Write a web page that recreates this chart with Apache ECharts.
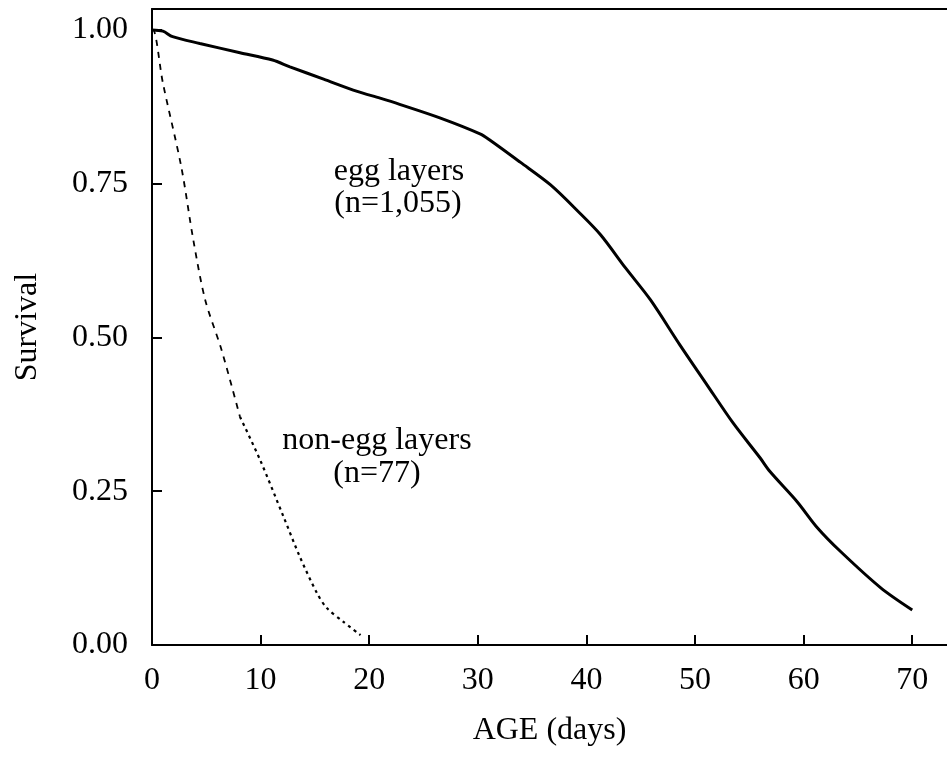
<!DOCTYPE html>
<html>
<head>
<meta charset="utf-8">
<script src="https://cdn.jsdelivr.net/npm/echarts@6/dist/echarts.min.js"></script>
<style>html,body{margin:0;padding:0;background:#fff;}#c{width:947px;height:759px;}</style>
</head>
<body>
<div id="c"></div>
<script>
const eggDays = [0, 1, 1.9, 4.4, 8.1, 11.1, 12.7, 15.8, 18.9, 21, 22.8, 26.5, 30.2, 31.1, 33.9, 36.7, 39.4, 41.3, 43.6, 45.9, 48.6, 51.1, 53.5, 56, 56.9, 59.4, 61.2, 63.4, 67.1, 70];
const eggSurv = [1.0, 0.998, 0.989, 0.978, 0.963, 0.951, 0.940, 0.920, 0.900, 0.889, 0.879, 0.857, 0.831, 0.821, 0.785, 0.748, 0.702, 0.667, 0.613, 0.561, 0.488, 0.423, 0.361, 0.304, 0.282, 0.233, 0.192, 0.152, 0.093, 0.057];
const nonEggDashDays = [0, 0.1, 1.0, 2.7, 3.8, 4.9, 6.4, 8.1];
const nonEggDashSurv = [1.0, 1.0, 0.914, 0.777, 0.659, 0.561, 0.480, 0.371];
const nonEggDotDays = [8.1, 9.95, 12.1, 13.6, 15.2, 16.1, 17.6, 19.2];
const nonEggDotSurv = [0.371, 0.301, 0.209, 0.144, 0.084, 0.060, 0.038, 0.016];
const xTicks = [0, 10, 20, 30, 40, 50, 60, 70];
const yTicks = ['0.00', '0.25', '0.50', '0.75', '1.00'];

const FONT = '"Liberation Serif", "Times New Roman", serif';
const pairs = (a, b) => a.map((v, i) => [v, b[i]]);

const chart = echarts.init(document.getElementById('c'), null, {renderer: 'canvas'});
chart.setOption({
  backgroundColor: '#fff',
  animation: false,
  grid: {left: 152, right: 0, top: 9, bottom: 114},
  xAxis: [{
    type: 'value', min: 0, max: 73.2, interval: 10,
    axisLine: {lineStyle: {color: '#000', width: 2}},
    axisTick: {inside: true, length: 10, lineStyle: {color: '#000', width: 2}},
    axisLabel: {color: '#000', fontFamily: FONT, fontSize: 32, margin: 20, showMaxLabel: false,
      formatter: v => xTicks.indexOf(v) >= 0 ? String(v) : ''},
    splitLine: {show: false},
    name: 'AGE (days)', nameLocation: 'middle', nameGap: 70,
    nameTextStyle: {color: '#000', fontFamily: FONT, fontSize: 32}
  }, {
    type: 'value', position: 'top', min: 0, max: 73.2,
    axisLine: {show: true, lineStyle: {color: '#000', width: 2}},
    axisTick: {show: false}, axisLabel: {show: false}, splitLine: {show: false}
  }],
  yAxis: {
    type: 'value', min: 0, max: 1.034, interval: 0.25,
    axisLine: {show: true, lineStyle: {color: '#000', width: 2}},
    axisTick: {show: true, inside: true, length: 10, lineStyle: {color: '#000', width: 2}},
    axisLabel: {color: '#000', fontFamily: FONT, fontSize: 32, margin: 24, showMaxLabel: false,
      formatter: v => { const s = v.toFixed(2); return yTicks.indexOf(s) >= 0 ? s : ''; }},
    splitLine: {show: false},
    name: 'Survival', nameLocation: 'middle', nameGap: 108, nameRotate: 90,
    nameTextStyle: {color: '#000', fontFamily: FONT, fontSize: 32}
  },
  series: [
    {type: 'line', data: pairs(eggDays, eggSurv), showSymbol: false, smooth: 0.3,
      lineStyle: {color: '#000', width: 3}},
    {type: 'line', data: pairs(nonEggDashDays, nonEggDashSurv), showSymbol: false, smooth: 0.3,
      lineStyle: {color: '#000', width: 1.8, type: [6, 6]}},
    {type: 'line', data: pairs(nonEggDotDays, nonEggDotSurv), showSymbol: false, smooth: 0.3,
      lineStyle: {color: '#000', width: 2.2, type: [3, 4]}}
  ],
  graphic: [
    {type: 'text', x: 399, y: 172, style: {text: 'egg layers', font: '32px ' + FONT, fill: '#000', align: 'center', verticalAlign: 'middle'}},
    {type: 'text', x: 398, y: 204, style: {text: '(n=1,055)', font: '32px ' + FONT, fill: '#000', align: 'center', verticalAlign: 'middle'}},
    {type: 'text', x: 377, y: 441, style: {text: 'non-egg layers', font: '32px ' + FONT, fill: '#000', align: 'center', verticalAlign: 'middle'}},
    {type: 'text', x: 377, y: 474, style: {text: '(n=77)', font: '32px ' + FONT, fill: '#000', align: 'center', verticalAlign: 'middle'}}
  ]
});
</script>
</body>
</html>
